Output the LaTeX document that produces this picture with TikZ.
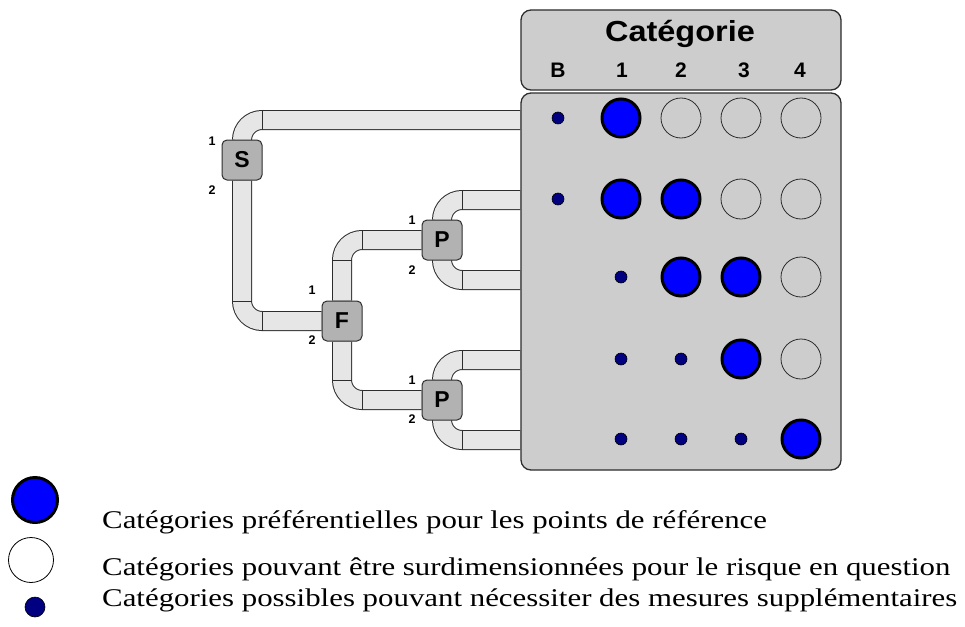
\documentclass[tikz,border=0pt]{standalone}
\usepackage{fontspec}
\usepackage{graphicx}
\setmainfont{Liberation Serif}
\setsansfont{Liberation Sans}
\usetikzlibrary{calc,backgrounds}

\definecolor{panel}{RGB}{205,205,205}
\definecolor{pipefill}{RGB}{230,230,230}
\definecolor{unitfill}{RGB}{178,178,178}
\definecolor{edge}{RGB}{45,45,45}
\definecolor{prefblue}{RGB}{0,0,255}
\definecolor{possnavy}{RGB}{0,0,128}

% separator across a horizontal pipe / across a vertical pipe
\newcommand\jointv[1]{\draw[joint] ($#1+(0,-9.5)$) -- ($#1+(0,9.5)$);}
\newcommand\jointh[1]{\draw[joint] ($#1+(-9.5,0)$) -- ($#1+(9.5,0)$);}

\tikzset{
  panelbox/.style={draw=edge, line width=1.3pt, fill=panel, rounded corners=10pt,
    inner sep=0pt, minimum width=320pt},
  unit/.style={draw=edge, line width=1pt, fill=unitfill, rounded corners=5pt,
    minimum size=40pt, inner sep=0pt, font=\sffamily\bfseries\fontsize{23}{23}\selectfont},
  port/.style={inner sep=0pt, font=\sffamily\bfseries\fontsize{12.5}{12.5}\selectfont},
  colhead/.style={anchor=base, inner sep=0pt, font=\sffamily\bfseries\fontsize{21}{21}\selectfont},
  pipe/.style={draw=edge, line width=1pt, double=pipefill, double distance=18pt,
    rounded corners=20pt},
  joint/.style={draw=edge, line width=1pt},
  pref/.style={circle, draw=black, line width=3pt, fill=prefblue, minimum size=38pt, inner sep=0pt},
  over/.style={circle, draw=edge, line width=0.8pt, minimum size=40pt, inner sep=0pt},
  poss/.style={circle, draw=black, line width=0.6pt, fill=possnavy, minimum size=12pt, inner sep=0pt},
  legtext/.style={anchor=base west, inner sep=0pt, font=\rmfamily\fontsize{25.5}{25.5}\selectfont},
}

\begin{document}
\begin{tikzpicture}[x=1pt, y=-1pt]
\useasboundingbox (0,0) rectangle (965,626);

% category panels
\node[panelbox, minimum height=80pt] (head) at (681,50) {};
\node[panelbox, minimum height=377pt] (body) at (681,281.5) {};
\node[anchor=base, inner sep=0pt, font=\sffamily\bfseries\fontsize{29}{29}\selectfont]
  (title) at (680,41.5) {\scalebox{1.12}[1]{Catégorie}};
\node[colhead] (hB) at (558,77) {B};
\node[colhead] (h1) at (622,77) {1};
\node[colhead] (h2) at (681,77) {2};
\node[colhead] (h3) at (744,77) {3};
\node[colhead] (h4) at (800,77) {4};

% pipe entry points on the panel
\coordinate (r1) at (body.west |- 0,120);
\coordinate (r2) at (body.west |- 0,200);
\coordinate (r3) at (body.west |- 0,280);
\coordinate (r4) at (body.west |- 0,360);
\coordinate (r5) at (body.west |- 0,440);

% channel units
\node[unit] (S) at (242,160) {S};
\node[unit] (F) at (342,321) {F};
\node[unit] (P1) at (442,240) {P};
\node[unit] (P2) at (442,400) {P};

\node[port] (S1) at ($(S)+(-30,-19)$) {1};
\node[port] (S2) at ($(S)+(-30,30)$) {2};
\node[port] (F1) at ($(F)+(-30,-31)$) {1};
\node[port] (F2) at ($(F)+(-30,19)$) {2};
\node[port] (P11) at ($(P1)+(-30,-20)$) {1};
\node[port] (P12) at ($(P1)+(-30,30)$) {2};
\node[port] (P21) at ($(P2)+(-30,-20)$) {1};
\node[port] (P22) at ($(P2)+(-30,19)$) {2};

% pipes behind everything
\begin{scope}[on background layer]
  \draw[pipe] (S.north) |- (r1);
  \draw[pipe] (S.south) |- (F.west);
  \draw[pipe] (F.north) |- (P1.west);
  \draw[pipe] (F.south) |- (P2.west);
  \draw[pipe] (P1.north) |- (r2);
  \draw[pipe] (P1.south) |- (r3);
  \draw[pipe] (P2.north) |- (r4);
  \draw[pipe] (P2.south) |- (r5);

  \coordinate (k1) at (S.north |- r1);
  \coordinate (k2) at (S.south |- F.west);
  \coordinate (k3) at (F.north |- P1.west);
  \coordinate (k4) at (F.south |- P2.west);
  \coordinate (k5) at (P1.north |- r2);
  \coordinate (k6) at (P1.south |- r3);
  \coordinate (k7) at (P2.north |- r4);
  \coordinate (k8) at (P2.south |- r5);

  \jointv{(k1)+(20,0)}
  \jointh{(k2)+(0,-20)} \jointv{(k2)+(20,0)}
  \jointh{(k3)+(0,20)}  \jointv{(k3)+(20,0)}
  \jointh{(k4)+(0,-20)} \jointv{(k4)+(20,0)}
  \jointv{(k5)+(20,0)}
  \jointv{(k6)+(20,0)}
  \jointv{(k7)+(20,0)}
  \jointv{(k8)+(20,0)}
\end{scope}

% category matrix
\foreach \cx/\cy/\kind/\nm in {
  558/118/poss/b1, 621/118/pref/a11, 681/118/over/a12, 741/118/over/a13, 801/118/over/a14,
  558/199/poss/b2, 621/199/pref/a21, 681/199/pref/a22, 741/199/over/a23, 801/199/over/a24,
  621/277/poss/a31, 681/277/pref/a32, 741/277/pref/a33, 801/277/over/a34,
  621/359/poss/a41, 681/359/poss/a42, 741/359/pref/a43, 801/359/over/a44,
  621/439/poss/a51, 681/439/poss/a52, 741/439/poss/a53, 801/439/pref/a54}
  \node[\kind] (\nm) at (\cx,\cy) {};

% legend
\node[pref, minimum size=45pt] (kpref) at (35,500) {};
\node[over, minimum size=45pt, draw=black] (kover) at (31,560) {};
\node[poss, minimum size=20pt] (kposs) at (35,607) {};
\node[legtext] (tpref) at (102,528) {\scalebox{1.21}[1]{Catégories préférentielles pour les points de référence}};
\node[legtext] (tover) at (102,575) {\scalebox{1.21}[1]{Catégories pouvant être surdimensionnées pour le risque en question}};
\node[legtext] (tposs) at (102,606) {\scalebox{1.21}[1]{Catégories possibles pouvant nécessiter des mesures supplémentaires}};
\end{tikzpicture}
\end{document}
